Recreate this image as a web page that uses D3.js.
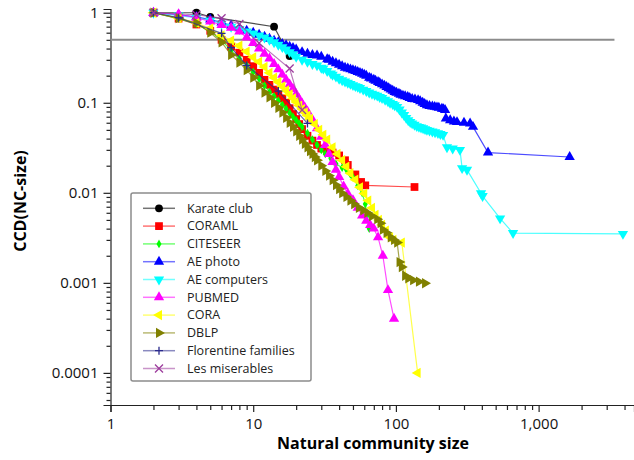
<!DOCTYPE html>
<html>
<head>
<meta charset="utf-8">
<script src="https://cdn.jsdelivr.net/npm/d3@7"></script>
<style>
  body { margin: 0; background: #fff; }
  text { font-family: "Open Sans", sans-serif; }
</style>
</head>
<body>
<svg id="chart" width="634" height="460"></svg>
<script>
// values: [community size, CCD]
const karate = [[2,1],[4,1],[5,0.9],[14,0.7],[18,0.33]];
const coraml = [[2,1],[3,0.86],[4,0.74],[5,0.63],[6,0.5],[7,0.42],[8,0.36],[9,0.3],[10,0.255],[11,0.215],[12,0.18],[13,0.158],[14,0.14],[15,0.125],[16,0.112],[17,0.1],[18,0.087],[19,0.075],[20,0.066],[21,0.058],[22,0.051],[24,0.043],[26,0.038],[28,0.034],[30,0.031],[33,0.029],[36,0.028],[40,0.026],[44,0.023],[46,0.0204],[52,0.016],[57,0.0132],[61,0.0121],[135,0.0116]];
const citeseer = [[2,1],[3,0.86],[4,0.75],[5,0.62],[6,0.5],[7,0.38],[8,0.31],[9,0.26],[10,0.22],[11,0.185],[12,0.155],[13,0.132],[14,0.118],[15,0.106],[16,0.095],[17,0.086],[18,0.077],[19,0.07],[20,0.064],[21,0.059],[22,0.054],[24,0.046],[26,0.039],[28,0.034],[30,0.03],[32,0.027],[35,0.024],[38,0.021],[42,0.019],[45,0.018],[48,0.016],[50,0.0149],[54,0.012],[58,0.01],[61,0.0075],[63,0.0056],[65,0.004]];
const aePhoto = [[2,1],[3,0.95],[4,0.9],[5,0.84],[6,0.78],[7,0.72],[8,0.67],[9,0.63],[10,0.6],[11,0.57],[12,0.54],[13,0.515],[14,0.49],[15,0.47],[16,0.45],[17,0.435],[18,0.42],[19,0.405],[20,0.39],[22,0.365],[24,0.35],[26,0.34],[28,0.335],[30,0.325],[33,0.305],[34,0.3],[36,0.285],[38,0.275],[40,0.265],[42,0.255],[44,0.245],[46,0.24],[48,0.235],[50,0.23],[52,0.225],[54,0.22],[56,0.215],[58,0.21],[60,0.205],[62,0.2],[65,0.19],[67,0.186],[70,0.18],[72,0.176],[75,0.17],[77,0.166],[80,0.16],[83,0.155],[86,0.15],[89,0.145],[92,0.14],[95,0.136],[98,0.132],[101,0.129],[105,0.126],[108,0.123],[112,0.12],[116,0.118],[121,0.116],[125,0.113],[130,0.11],[136,0.109],[143,0.107],[148,0.104],[154,0.1],[159,0.097],[165,0.094],[172,0.092],[180,0.091],[187,0.09],[194,0.089],[200,0.088],[210,0.086],[215,0.085],[221,0.083],[224,0.067],[240,0.064],[255,0.062],[268,0.061],[300,0.06],[331,0.059],[347,0.054],[442,0.028],[1650,0.025]];
const aeComputers = [[2,1],[3,0.93],[4,0.88],[5,0.82],[6,0.76],[7,0.7],[8,0.66],[9,0.62],[10,0.59],[11,0.56],[12,0.53],[13,0.5],[14,0.47],[15,0.44],[16,0.415],[17,0.39],[18,0.365],[19,0.345],[20,0.325],[22,0.3],[24,0.285],[26,0.27],[28,0.26],[30,0.245],[31,0.24],[33,0.225],[35,0.212],[36,0.205],[38,0.195],[40,0.185],[42,0.178],[44,0.172],[46,0.167],[48,0.162],[50,0.157],[52,0.153],[54,0.15],[56,0.146],[59,0.14],[62,0.135],[65,0.13],[68,0.126],[71,0.123],[74,0.12],[77,0.116],[80,0.113],[84,0.108],[88,0.104],[91,0.1],[95,0.097],[98,0.094],[102,0.09],[106,0.084],[110,0.078],[114,0.073],[118,0.068],[122,0.064],[126,0.061],[130,0.059],[135,0.057],[140,0.055],[145,0.054],[150,0.053],[155,0.052],[160,0.051],[165,0.05],[172,0.049],[180,0.048],[188,0.047],[197,0.046],[205,0.045],[214,0.044],[228,0.032],[250,0.031],[281,0.03],[291,0.0188],[315,0.018],[395,0.0099],[405,0.0092],[537,0.0052],[662,0.00357],[3900,0.0035]];
const pubmed = [[2,1],[3,0.96],[4,0.88],[5,0.8],[6,0.73],[7,0.68],[8,0.62],[9,0.53],[10,0.46],[11,0.4],[12,0.35],[13,0.31],[14,0.27],[15,0.235],[16,0.205],[17,0.18],[18,0.16],[19,0.142],[20,0.125],[21,0.11],[22,0.098],[23,0.088],[24,0.08],[26,0.065],[28,0.052],[30,0.042],[32,0.034],[34,0.027],[36,0.022],[38,0.018],[40,0.015],[43,0.0118],[46,0.0098],[50,0.0083],[54,0.0068],[58,0.0056],[62,0.0049],[66,0.0044],[70,0.004],[75,0.0032],[81,0.002],[88,0.00083],[97,0.0004]];
const cora = [[2,1],[3,0.87],[4,0.77],[5,0.67],[6,0.56],[7,0.49],[8,0.43],[9,0.37],[10,0.32],[11,0.285],[12,0.25],[13,0.215],[14,0.19],[15,0.17],[16,0.152],[17,0.137],[18,0.124],[19,0.112],[20,0.102],[21,0.093],[22,0.085],[23,0.078],[24,0.072],[25,0.066],[27,0.058],[29,0.05],[31,0.044],[33,0.039],[36,0.032],[39,0.027],[42,0.023],[45,0.0195],[48,0.0165],[52,0.014],[56,0.0115],[60,0.0098],[64,0.0082],[68,0.0068],[72,0.0057],[76,0.005],[80,0.0044],[85,0.0038],[91,0.0032],[96,0.003],[110,0.0028],[142,0.0001]];
const dblp = [[2,1],[3,0.87],[4,0.77],[5,0.6],[6,0.47],[7,0.34],[8,0.28],[9,0.23],[10,0.19],[11,0.155],[12,0.13],[13,0.115],[14,0.1],[15,0.088],[16,0.078],[17,0.068],[18,0.06],[19,0.054],[20,0.048],[21,0.043],[22,0.039],[23,0.035],[24,0.032],[25,0.029],[26,0.027],[27,0.025],[28,0.023],[30,0.02],[32,0.0175],[34,0.0155],[36,0.0138],[38,0.0122],[40,0.011],[42,0.0099],[45,0.009],[48,0.0082],[51,0.0075],[55,0.0068],[59,0.0064],[63,0.006],[68,0.0055],[74,0.0051],[78,0.0046],[81,0.0039],[86,0.0036],[92,0.0032],[97,0.003],[102,0.0028],[106,0.0017],[110,0.0015],[116,0.0012],[122,0.00112],[132,0.00107],[145,0.00103],[160,0.00099]];
const florentine = [[2,1],[3,0.88],[6,0.59],[7,0.41],[9,0.26],[15,0.135],[24,0.059]];
const lesMis = [[2,1],[4,0.95],[6,0.87],[8,0.75],[11,0.46],[18,0.24],[22,0.083]];

const seriesNames = ["Karate club", "CORAML", "CITESEER", "AE photo", "AE computers", "PUBMED", "CORA", "DBLP", "Florentine families", "Les miserables"];
const seriesData = [karate, coraml, citeseer, aePhoto, aeComputers, pubmed, cora, dblp, florentine, lesMis];
const seriesColors = ["#000000", "#ff0000", "#00ff00", "#0000ff", "#00ffff", "#ff00ff", "#ffff00", "#808000", "#2a2a8c", "#9c3c9c"];
const seriesShapes = ["circle", "square", "diamond", "up", "down", "up", "left", "right", "plus", "cross"];

const xMajorTicks = [1, 10, 100, 1000];
const xTickLabels = ["1", "10", "100", "1,000"];
const yMajorTicks = [1, 0.1, 0.01, 0.001, 0.0001];
const yTickLabels = ["1", "0.1", "0.01", "0.001", "0.0001"];
const thresholdLine = 0.5;

const svg = d3.select("#chart");
const x = d3.scaleLog().domain([1, 4660]).range([110.5, 634]);
const y = d3.scaleLog().domain([4.4e-5, 1.1]).range([405, 9]);

// minor + major ticks for both axes
const xTicks = [];
for (let p = 0; p <= 3; p++) for (let m = 1; m <= 9; m++) {
  const v = m * Math.pow(10, p);
  if (v <= x.domain()[1]) xTicks.push(v);
}
const yTicks = [];
for (let p = -5; p <= 0; p++) for (let m = 1; m <= 9; m++) {
  const v = m * Math.pow(10, p);
  if (v >= y.domain()[0] && v <= y.domain()[1]) yTicks.push(v);
}
const isMajor = (list, v) => list.some(t => Math.abs(t - v) / t < 1e-6);

const xAxis = d3.axisBottom(x).tickValues(xTicks).tickSize(7).tickPadding(6)
  .tickFormat(v => { const i = xMajorTicks.findIndex(t => Math.abs(t - v) / t < 1e-6); return i < 0 ? "" : xTickLabels[i]; });
const yAxis = d3.axisLeft(y).tickValues(yTicks).tickSize(7).tickPadding(5)
  .tickFormat(v => { const i = yMajorTicks.findIndex(t => Math.abs(t - v) / t < 1e-6); return i < 0 ? "" : yTickLabels[i]; });

svg.append("g").attr("transform", "translate(0,405)").call(xAxis)
  .call(g => g.selectAll(".tick line").attr("y2", d => isMajor(xMajorTicks, d) ? 7 : 5))
  .call(g => g.selectAll("text").attr("font-size", 15).attr("fill", "#111"));
svg.append("g").attr("transform", "translate(110.5,0)").call(yAxis)
  .call(g => g.selectAll(".tick line").attr("x2", d => isMajor(yMajorTicks, d) ? -7 : -4))
  .call(g => g.selectAll("text").attr("font-size", 15).attr("fill", "#111"));
svg.selectAll(".domain, .tick line").attr("stroke", "#222").attr("stroke-width", 1.2);

// 0.5 reference line
svg.append("line")
  .attr("x1", x(1)).attr("x2", x(3400))
  .attr("y1", y(thresholdLine)).attr("y2", y(thresholdLine))
  .attr("stroke", "#8c8c8c").attr("stroke-width", 2);

function marker(sel, shape, color) {
  if (shape === "plus" || shape === "cross") {
    const d = shape === "plus" ? "M-4,0H4M0,-4V4" : "M-4,-4L4,4M-4,4L4,-4";
    sel.append("path").attr("d", d).attr("stroke", color).attr("stroke-width", 1.3).attr("fill", "none");
    return;
  }
  const sym = { circle: d3.symbolCircle, square: d3.symbolSquare, diamond: d3.symbolDiamond,
    up: d3.symbolTriangle, down: d3.symbolTriangle, left: d3.symbolTriangle, right: d3.symbolTriangle }[shape];
  const size = { circle: 48, square: 60, diamond: 22 }[shape] || 46;
  const rot = { down: 180, left: -90, right: 90 }[shape] || 0;
  sel.append("path").attr("d", d3.symbol(sym, size)()).attr("fill", color)
    .attr("transform", rot ? `rotate(${rot})` : null);
}

const line = d3.line().x(d => x(d[0])).y(d => y(d[1]));
const plot = svg.append("g");
seriesData.forEach((data, i) => {
  const g = plot.append("g");
  g.append("path").datum(data).attr("d", line)
    .attr("fill", "none").attr("stroke", seriesColors[i]).attr("stroke-opacity", 0.7).attr("stroke-width", 1.2);
  g.selectAll("g.pt").data(data).join("g").attr("class", "pt")
    .attr("transform", d => `translate(${x(d[0])},${y(d[1])})`)
    .each(function() { marker(d3.select(this), seriesShapes[i], seriesColors[i]); });
});

// legend
const legend = svg.append("g").attr("transform", "translate(131,193)");
legend.append("rect").attr("width", 180).attr("height", 188).attr("rx", 2)
  .attr("fill", "#fff").attr("stroke", "#8c8c8c").attr("stroke-width", 1.5);
seriesNames.forEach((name, i) => {
  const row = legend.append("g").attr("transform", `translate(0,${15.3 + i * 17.8})`);
  row.append("line").attr("x1", 12).attr("x2", 44)
    .attr("stroke", seriesColors[i]).attr("stroke-opacity", 0.55).attr("stroke-width", 1.5);
  marker(row.append("g").attr("transform", "translate(28,0)"), seriesShapes[i], seriesColors[i]);
  row.append("text").attr("x", 56).attr("dy", "0.35em").attr("font-size", 12.5).attr("fill", "#222").text(name);
});

// axis titles
svg.append("text").attr("x", 373).attr("y", 449).attr("text-anchor", "middle")
  .attr("font-size", 16).attr("font-weight", "bold").text("Natural community size");
svg.append("text").attr("transform", "translate(26,201) rotate(-90)").attr("text-anchor", "middle")
  .attr("font-size", 16).attr("font-weight", "bold").text("CCD(NC-size)");
</script>
</body>
</html>
